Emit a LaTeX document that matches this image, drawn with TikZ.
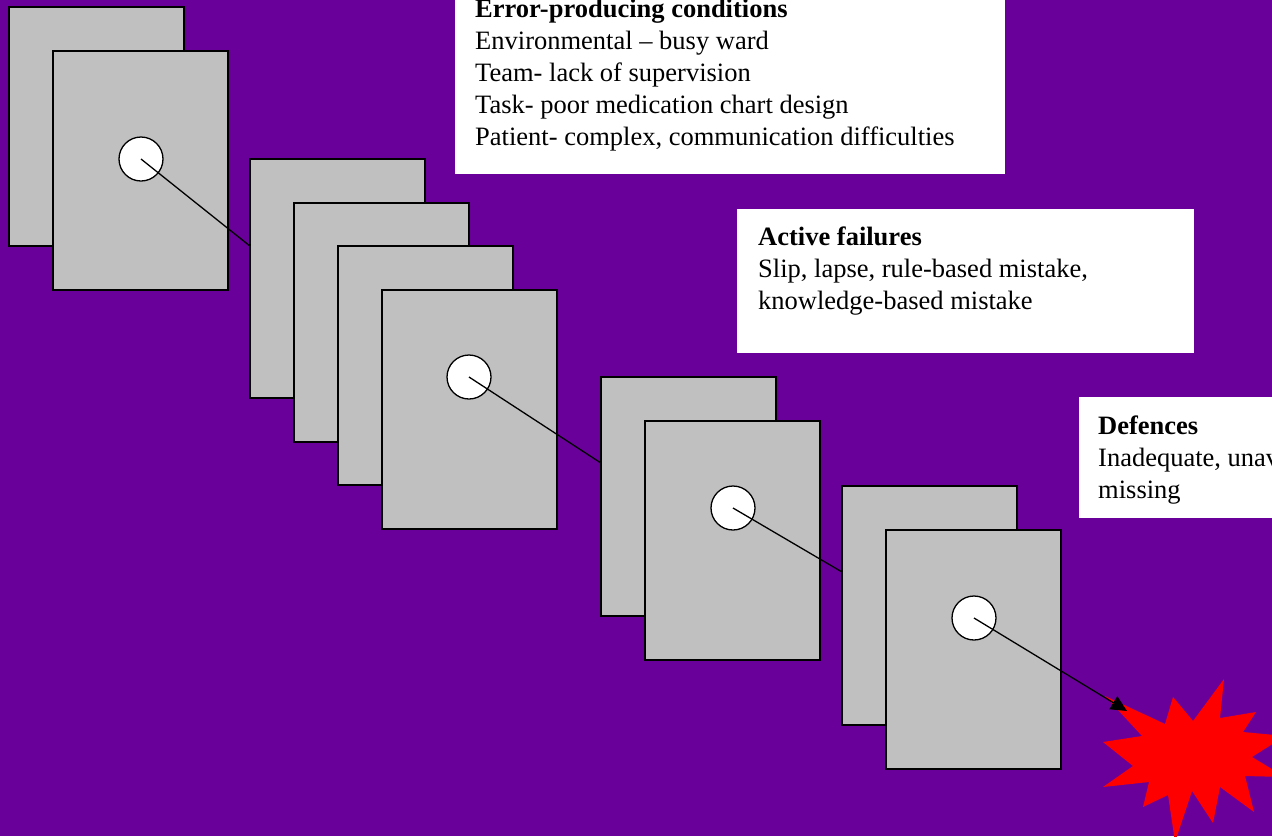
\documentclass[tikz,border=0pt]{standalone}
\usepackage{fontspec}
\setmainfont{Liberation Serif}
\usetikzlibrary{arrows.meta}
\definecolor{bgpurple}{RGB}{105,0,153}
\definecolor{sheetgray}{RGB}{192,192,192}
\begin{document}
\begin{tikzpicture}[x=1pt,y=-1pt,
  sheet/.style={draw=black, line width=1.3pt, fill=sheetgray, minimum width=175pt, minimum height=239pt, anchor=north west, inner sep=0pt, outer sep=0pt},
  hole/.style={circle, draw=black, line width=1.3pt, fill=white, minimum size=44pt, inner sep=0pt},
  link/.style={draw=black, line width=1.3pt},
  infobox/.style={fill=white, anchor=north west, inner sep=0pt, outer sep=0pt},
  infotext/.style={anchor=base west, inner sep=0pt, font=\fontsize{26.5}{32}\selectfont}]
\path[use as bounding box] (0,0) rectangle (1272,836);
\clip (0,0) rectangle (1272,836);
\fill[bgpurple] (0,0) rectangle (1272,836);

% text boxes
\node[infobox, minimum width=550pt, minimum height=184pt] (boxA) at (455,-10) {};
\node[infotext] (textA) at (475,17) {\vtop{\hbox{\bfseries Error-producing conditions}\hbox{Environmental – busy ward}\hbox{Team- lack of supervision}\hbox{Task- poor medication chart design}\hbox{Patient- complex, communication difficulties}}};
\node[infobox, minimum width=457pt, minimum height=144pt] (boxB) at (737,209) {};
\node[infotext] (textB) at (758,245) {\vtop{\hbox{\bfseries Active failures}\hbox{Slip, lapse, rule-based mistake,}\hbox{knowledge-based mistake}}};
\node[infobox, minimum width=250pt, minimum height=121pt] (boxC) at (1079,397) {};
\node[infotext] (textC) at (1098,434) {\vtop{\hbox{\bfseries Defences}\hbox{Inadequate, unavailable or}\hbox{missing}}};

% explosion
\fill[red] (1105,696) -- (1165,724) -- (1173,697) -- (1193,721) -- (1224,679) -- (1220,718)
  -- (1256,712) -- (1243,732) -- (1285,736) -- (1252,757) -- (1285,777) -- (1245,776)
  -- (1254,812) -- (1220,787) -- (1213,823) -- (1192,791) -- (1175,842) -- (1168,795)
  -- (1143,807) -- (1149,782) -- (1103,787) -- (1133,766) -- (1103,742) -- (1142,736) -- cycle;

% group A
\node[sheet] (a1) at (9,7) {};
\node[sheet] (a2) at (53,51) {};
\node[hole] (ha) at (141,159) {};
\coordinate (ea) at (300,286);
\draw[link] (ha.center) -- (ea);

% group B
\node[sheet] (b1) at (250,159) {};
\node[sheet] (b2) at (294,203) {};
\node[sheet] (b3) at (338,246) {};
\node[sheet] (b4) at (382,290) {};
\node[hole] (hb) at (469,377) {};
\coordinate (eb) at (650,495);
\draw[link] (hb.center) -- (eb);

% group C
\node[sheet] (c1) at (601,377) {};
\node[sheet] (c2) at (645,421) {};
\node[hole] (hc) at (733,508) {};
\coordinate (ec) at (900,606);
\draw[link] (hc.center) -- (ec);

% group D
\node[sheet] (d1) at (842,486) {};
\node[sheet] (d2) at (886,530) {};
\node[hole] (hd) at (974,618) {};
\coordinate (impact) at (1127,711);
\draw[link, -{Triangle[length=16pt,width=15pt]}] (hd.center) -- (impact);
\end{tikzpicture}
\end{document}
